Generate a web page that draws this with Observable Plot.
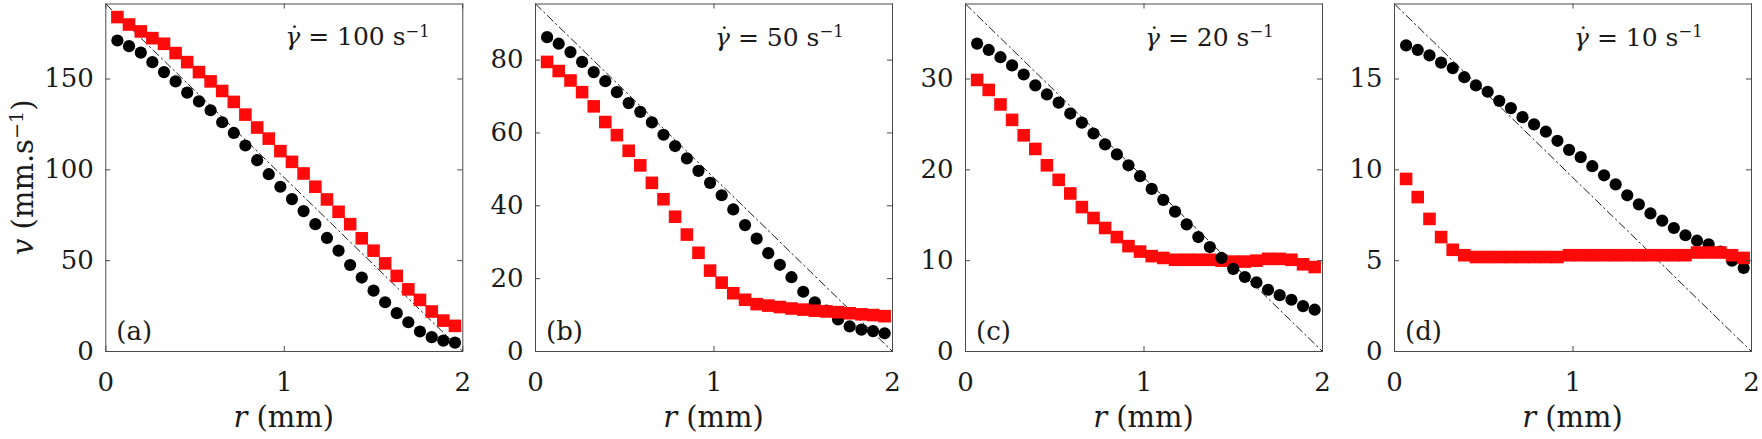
<!DOCTYPE html>
<html><head><meta charset="utf-8">
<script src="https://cdn.jsdelivr.net/npm/d3@7"></script>
<script src="https://cdn.jsdelivr.net/npm/@observablehq/plot@0.6"></script>
<style>
body{margin:0;background:#fff;}
#wrap{position:relative;width:1762px;height:439px;overflow:hidden;background:#fff;}
#wrap svg{position:absolute;top:0;overflow:visible;}
</style></head><body><div id="wrap"></div>
<script>
// radial positions (mm)
const r = [0.065,0.130,0.196,0.261,0.326,0.391,0.456,0.522,0.587,0.652,0.717,0.782,0.848,0.913,0.978,1.043,1.108,1.174,1.239,1.304,1.369,1.434,1.500,1.565,1.630,1.695,1.760,1.826,1.891,1.956];

const rates = ["100","50","20","10"];
const letters = ["(a)","(b)","(c)","(d)"];
const vMax = [191.3, 95.4, 38.26, 19.13];
const yTicks = [[0,50,100,150],[0,20,40,60,80],[0,10,20,30],[0,5,10,15]];
const xTicks = [0,1,2];
const lineR = [0, 2];

const blackA = [171.2,168.1,164.5,159.3,153.8,148.7,142.5,137.7,132.8,126.2,120.3,113.4,105.3,97.6,90.7,83.9,77.3,70.1,62.5,55.5,47.6,40.7,33.5,27.1,21.1,16.1,11.0,7.9,6.0,4.9];
const redA   = [184.1,180.0,176.2,172.5,169.4,164.3,159.3,153.8,148.7,143.4,137.4,130.4,123.3,117.2,110.3,104.4,98.0,90.7,83.7,76.9,70.1,62.3,55.5,48.5,41.6,34.2,28.4,22.0,17.0,14.1];
const blackB = [86.3,84.5,82.2,79.5,76.7,74.2,71.2,68.2,65.8,62.9,59.5,56.4,53.0,49.6,46.3,42.9,39.0,34.7,31.0,27.0,23.8,20.4,16.4,13.5,11.2,8.8,6.9,6.0,5.6,5.0];
const redB   = [79.5,77.0,74.4,71.2,67.3,63.0,59.4,55.1,51.1,46.3,41.8,37.0,32.1,27.1,22.2,18.9,16.0,14.2,13.0,12.6,12.2,11.8,11.5,11.2,11.0,10.8,10.5,10.2,10.0,9.7];
const blackC = [33.9,33.2,32.4,31.5,30.5,29.3,28.3,27.4,26.2,25.2,24.0,22.8,21.7,20.5,19.3,17.9,16.7,15.4,14.0,12.6,11.5,10.3,9.1,8.2,7.6,6.8,6.2,5.7,5.0,4.6];
const redC   = [29.9,28.8,27.2,25.5,23.8,22.3,20.5,18.9,17.4,15.9,14.7,13.6,12.6,11.6,11.0,10.5,10.3,10.1,10.1,10.1,10.1,10.0,9.9,9.9,10.0,10.2,10.2,10.1,9.6,9.3];
const blackD = [16.85,16.6,16.3,15.9,15.6,15.1,14.65,14.3,13.8,13.4,12.9,12.5,12.1,11.6,11.1,10.7,10.2,9.7,9.2,8.6,8.1,7.6,7.2,6.8,6.4,6.1,5.9,5.5,5.0,4.6];
const redD   = [9.5,8.5,7.3,6.3,5.6,5.3,5.2,5.2,5.2,5.2,5.2,5.2,5.2,5.2,5.3,5.3,5.3,5.3,5.3,5.3,5.3,5.3,5.3,5.3,5.3,5.45,5.45,5.45,5.3,5.15];

const blacks = [blackA, blackB, blackC, blackD];
const reds = [redA, redB, redC, redD];
const blackOnTop = [false, false, true, false];

// layout
const panelLeft = [105.3, 535.3, 965.3, 1394.3];
const innerW = 357;
const H = 439, mt = 3.5, mb = 88;
const innerH = H - mt - mb;
const FONT = "DejaVu Serif";
const TXT = "#1a1a1a";
const FS = 25;

const wrap = document.getElementById("wrap");

function addText(svg, x, y, parts, {anchor = "start", size = FS, rotate = 0} = {}) {
  const t = svg.append("text")
    .attr("transform", `translate(${x},${y}) rotate(${rotate})`)
    .attr("text-anchor", anchor)
    .style("font-family", FONT)
    .attr("font-size", size)
    .attr("fill", TXT);
  for (const p of parts) {
    const s = t.append("tspan").text(p.t);
    if (p.italic) s.attr("font-style", "italic");
    if (p.sup) s.attr("font-size", size * 0.66).attr("dy", -size * 0.36);
    if (p.unsup) s.attr("dy", size * 0.36);
  }
  return t;
}

for (let i = 0; i < 4; i++) {
  const ml = i === 0 ? panelLeft[0] : 60;
  const mr = 10;
  const svgLeft = panelLeft[i] - ml;
  const pts = (vals) => r.map((x, j) => ({r: x, v: vals[j]}));
  const line = lineR.map((x, j) => ({r: x, v: j === 0 ? vMax[i] : 0}));
  const redMark = Plot.dot(pts(reds[i]), {x: "r", y: "v", symbol: "square", r: 7.1, fill: "#ff0a0a"});
  const blackMark = Plot.dot(pts(blacks[i]), {x: "r", y: "v", r: 6.1, fill: "#000"});
  const dots = blackOnTop[i] ? [redMark, blackMark] : [blackMark, redMark];
  const chart = Plot.plot({
    width: ml + innerW + mr,
    height: H,
    marginLeft: ml, marginRight: mr, marginTop: mt, marginBottom: mb,
    x: {domain: [0, 2]},
    y: {domain: [0, vMax[i]]},
    style: {fontFamily: FONT, fontSize: FS + "px", color: TXT, background: "transparent", overflow: "visible"},
    marks: [
      Plot.line(line, {x: "r", y: "v", stroke: "#000", strokeWidth: 0.9, strokeDasharray: "8,3.5,1.5,3.5"}),
      ...dots,
      Plot.frame({stroke: "#4a4a4a", strokeWidth: 1}),
      Plot.tickX(xTicks, {x: d => d, stroke: "#4a4a4a", insetTop: innerH - 5}),
      Plot.tickX(xTicks, {x: d => d, stroke: "#4a4a4a", insetBottom: innerH - 5}),
      Plot.tickY(yTicks[i], {y: d => d, stroke: "#4a4a4a", insetRight: innerW - 5}),
      Plot.tickY(yTicks[i], {y: d => d, stroke: "#4a4a4a", insetLeft: innerW - 5}),
      Plot.axisX({ticks: xTicks, tickSize: 0, tickPadding: 21, label: null, fontSize: FS + 1, tickFormat: d3.format("d")}),
      Plot.axisY({ticks: yTicks[i], tickSize: 0, tickPadding: 12, label: null, fontSize: FS + 1, tickFormat: d3.format("d")})
    ]
  });
  chart.style.left = svgLeft + "px";
  wrap.appendChild(chart);
  const svg = d3.select(chart);
  // panel letter
  addText(svg, ml + 11, H - mb - 11, [{t: letters[i]}], {size: 26});
  // shear-rate annotation: gamma with an overdot, then the value
  const ax = ml + 180, ay = 45.5;
  const g = addText(svg, ax, ay, [{t: "\u03B3", italic: true}]);
  const gw = g.node().getComputedTextLength();
  addText(svg, ax + gw * 0.62, ay - 1, [{t: "\u02D9"}], {anchor: "middle"});
  addText(svg, ax + gw, ay, [
    {t: " = " + rates[i] + " s"},
    {t: "\u22121", sup: true}
  ]);
  // x label
  addText(svg, ml + innerW / 2, 427, [{t: "r", italic: true}, {t: " (mm)"}], {anchor: "middle", size: 29});
  if (i === 0) {
    addText(svg, 33, mt + innerH / 2, [
      {t: "v", italic: true}, {t: " (mm.s"}, {t: "\u22121", sup: true}, {t: ")", unsup: true}
    ], {anchor: "middle", size: 29, rotate: -90});
  }
}
</script></body></html>
